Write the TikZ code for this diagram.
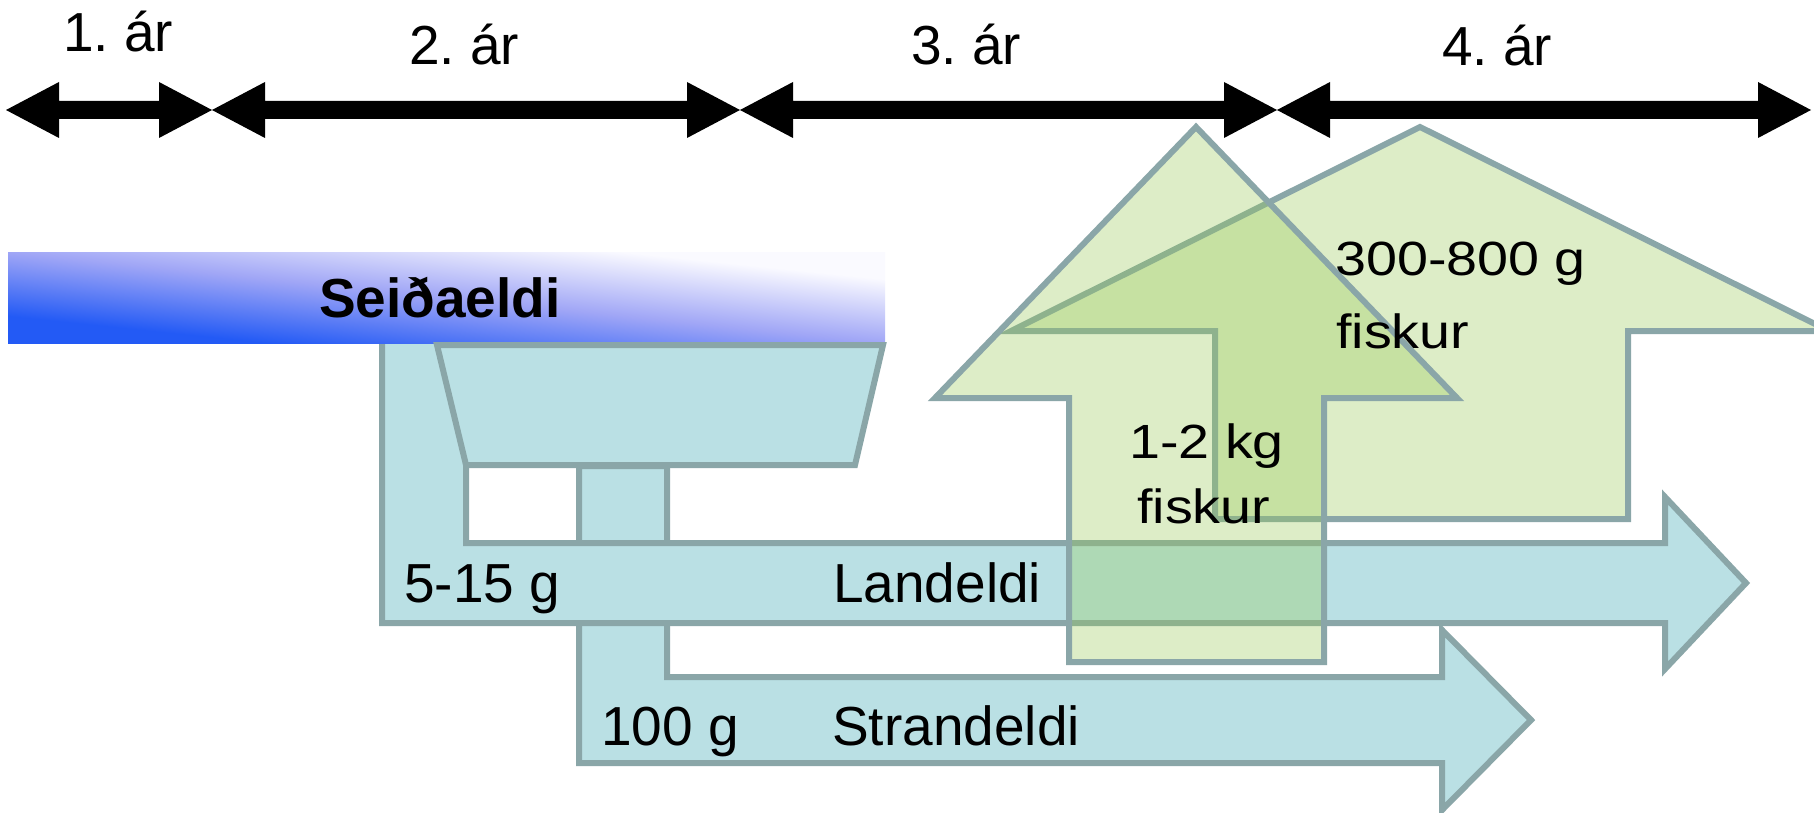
\documentclass[tikz,border=0pt]{standalone}
\usepackage{fontspec}
\setmainfont{Liberation Sans}
\frenchspacing
\definecolor{afill}{RGB}{186,224,228}
\definecolor{edgec}{RGB}{138,166,168}
\definecolor{gfill}{RGB}{152,203,88}
\definecolor{sblue}{RGB}{35,90,245}
\definecolor{smid}{RGB}{160,166,246}
\definecolor{swhite}{RGB}{250,250,255}
\tikzset{
  bluearrow/.style={fill=afill, draw=edgec, line width=6pt, line join=miter},
  greenarrow/.style={fill=gfill, fill opacity=0.33, draw=edgec, draw opacity=1, line width=6pt, line join=miter},
  lbl/.style={font=\fontsize{55}{66}\selectfont, inner sep=0pt, anchor=base west, text=black},
  glbl/.style={font=\fontsize{48}{60}\selectfont, inner sep=0pt, anchor=base west, text=black, xscale=1.16},
  yeararrow/.style={fill=black}
}
\begin{document}
\begin{tikzpicture}[x=1pt,y=-1pt]
\useasboundingbox (0,0) rectangle (1814,813);
\fill[white] (0,0) rectangle (1814,813);
\begin{scope}
\clip (0,0) rectangle (1814,813);
% timeline double arrows
\foreach \a/\b in {6/212,212/740,740/1277,1277/1811}{
  \fill[yeararrow] (\a,110) -- ({\a+53},82) -- ({\a+53},101) -- ({\b-53},101) -- ({\b-53},82) -- (\b,110)
     -- ({\b-53},138) -- ({\b-53},119) -- ({\a+53},119) -- ({\a+53},138) -- cycle;
}
% Strandeldi arrow
\draw[bluearrow] (579,466) -- (667,466) -- (667,677) -- (1442,677) -- (1442,630) -- (1531,720)
   -- (1442,810) -- (1442,763) -- (579,763) -- cycle;
% Landeldi arrow
\draw[bluearrow] (382,330) -- (466,330) -- (466,543) -- (1665,543) -- (1665,497) -- (1746,583)
   -- (1665,669) -- (1665,623) -- (382,623) -- cycle;
\end{scope}
% Seidaeldi bar: diagonal gradient drawn in a square, stretched to the bar
\begin{scope}[transform canvas={xscale=9.637363}]
\shade[top color=sblue, bottom color=swhite, middle color=smid, shading angle=135] (0.830103,252) rectangle (91.830103,343);
\end{scope}
\begin{scope}
\clip (0,0) rectangle (1814,813);
% trapezoid
\draw[bluearrow] (437,345) -- (883,345) -- (855,465) -- (466,465) -- cycle;
% green arrows
\draw[greenarrow] (1215,519) -- (1628,519) -- (1628,331) -- (1829,331) -- (1420,127) -- (1011,331) -- (1215,331) -- cycle;
\draw[greenarrow] (1069,662) -- (1324,662) -- (1324,398) -- (1457,398) -- (1196,127) -- (935,398) -- (1069,398) -- cycle;
\end{scope}
% labels
\node[lbl] (y1) at (63,52) {1. ár};
\node[lbl] (y2) at (409,65) {2. ár};
\node[lbl] (y3) at (911,65) {3. ár};
\node[lbl] (y4) at (1442,66) {4. ár};
\node[lbl, font=\bfseries\fontsize{55}{66}\selectfont] (seid) at (319,317) {Seiðaeldi};
\node[lbl] (g515) at (404,602) {5-15 g};
\node[lbl] (land) at (833,602) {Landeldi};
\node[lbl] (g100) at (601,745) {100 g};
\node[lbl] (strand) at (832,745) {Strandeldi};
\node[glbl] (g300) at (1335,275) {300-800 g};
\node[glbl] (f300) at (1336,348) {fiskur};
\node[glbl] (kg12) at (1129,458) {1-2 kg};
\node[glbl] (f12) at (1137,523) {fiskur};
\end{tikzpicture}
\end{document}
